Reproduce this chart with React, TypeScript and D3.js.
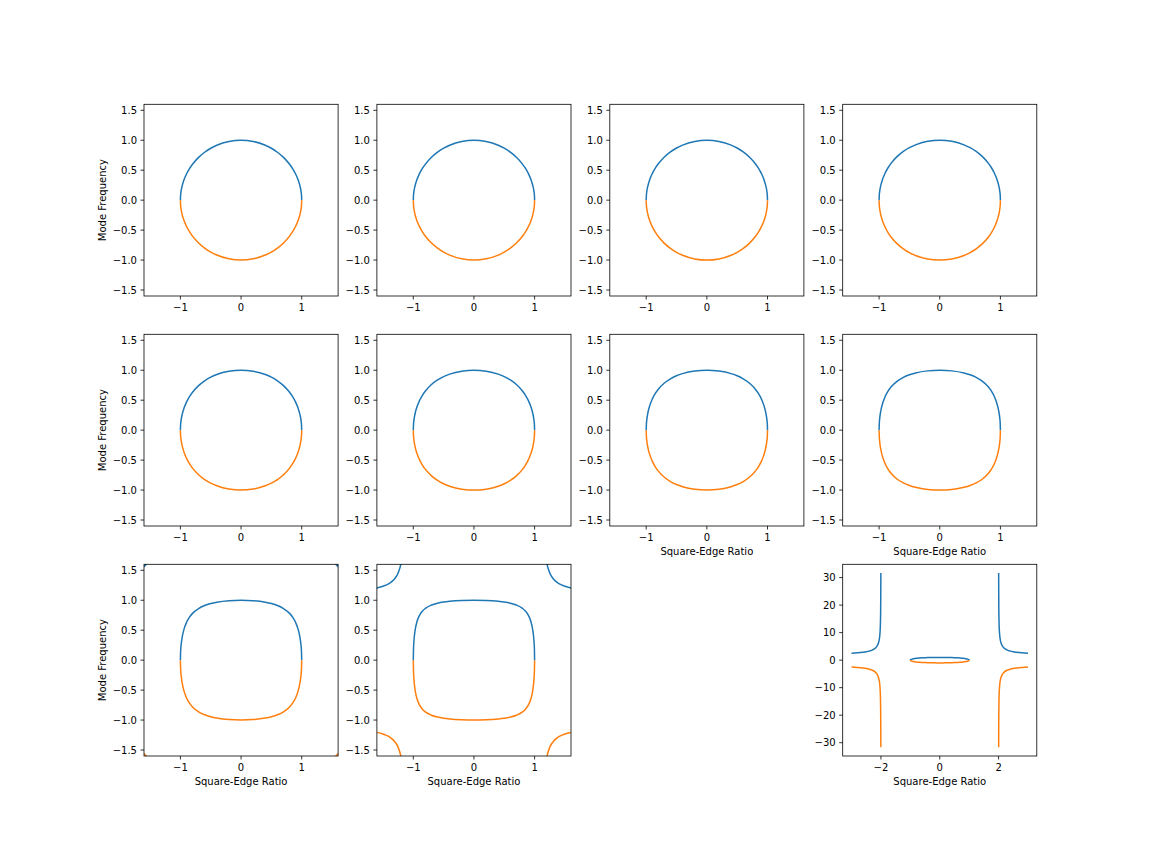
import React from 'react';
import * as d3 from 'd3';

const W = 1152;
const H = 864;
const BLUE = '#1f77b4';
const ORANGE = '#ff7f0e';
const FONT = 'DejaVu Sans, sans-serif';

// x samples of one quadrant; each closed curve is mirrored about x = 0 and y = 0
const quadX = [0, 0.2, 0.4, 0.5, 0.6, 0.7, 0.8, 0.85, 0.9, 0.94, 0.97, 0.99, 0.997, 1];

// upper curve heights, same positions as quadX
const quadY1 = [1, 0.9798, 0.9165, 0.866, 0.8, 0.7141, 0.6, 0.5268, 0.4359, 0.3412, 0.2431, 0.1411, 0.0774, 0];
const quadY2 = [1, 0.98, 0.9173, 0.8671, 0.8014, 0.7159, 0.6019, 0.5287, 0.4377, 0.3427, 0.2443, 0.1418, 0.0778, 0];
const quadY3 = [1, 0.9806, 0.9195, 0.8704, 0.8058, 0.7212, 0.6078, 0.5346, 0.4431, 0.3474, 0.2478, 0.1439, 0.079, 0];
const quadY4 = [1, 0.9816, 0.9232, 0.8759, 0.8133, 0.7304, 0.6181, 0.5448, 0.4527, 0.3556, 0.2541, 0.1477, 0.0811, 0];
const quadY5 = [1, 0.983, 0.9285, 0.8839, 0.8241, 0.7439, 0.6333, 0.5602, 0.4672, 0.3682, 0.2638, 0.1536, 0.0844, 0];
const quadY6 = [1, 0.9847, 0.9354, 0.8944, 0.8386, 0.7624, 0.6547, 0.582, 0.4881, 0.3865, 0.278, 0.1624, 0.0893, 0];
const quadY7 = [1, 0.9869, 0.9441, 0.9078, 0.8575, 0.7869, 0.6839, 0.6124, 0.5179, 0.4132, 0.299, 0.1754, 0.0966, 0];
const quadY8 = [1, 0.9895, 0.9547, 0.9245, 0.8815, 0.8192, 0.7242, 0.6554, 0.5613, 0.4531, 0.3311, 0.1957, 0.1081, 0];
const quadY9 = [1, 0.9926, 0.9674, 0.9449, 0.9119, 0.862, 0.7809, 0.7185, 0.6281, 0.5176, 0.3854, 0.2311, 0.1283, 0];
const quadY10 = [1, 0.9961, 0.9824, 0.9698, 0.9505, 0.9196, 0.8646, 0.818, 0.7433, 0.6399, 0.4985, 0.3107, 0.1753, 0];
const quadY12 = quadY6;

// outer branches (right-hand side; mirrored to the left)
const cornerX9 = [1.55, 1.56, 1.58, 1.6, 1.62];
const cornerY9 = [1.6152, 1.6036, 1.582, 1.563, 1.546];
const cornerX10 = [1.12, 1.15, 1.18, 1.2, 1.25, 1.3, 1.35, 1.4, 1.5, 1.6, 1.7];
const cornerY10 = [3.98, 2.128, 1.752, 1.626, 1.4552, 1.3676, 1.3142, 1.2782, 1.2328, 1.2054, 1.1872];
const outerX12 = [2.003, 2.005, 2.01, 2.02, 2.04, 2.07, 2.1, 2.15, 2.2, 2.3, 2.4, 2.5, 2.6, 2.8, 3.0];
const outerY12 = [31.67, 24.56, 17.41, 12.38, 8.846, 6.791, 5.768, 4.825, 4.276, 3.647, 3.289, 3.055, 2.889, 2.669, 2.53];

const smallXTicks = [-1, 0, 1];
const smallYTicks = [-1.5, -1, -0.5, 0, 0.5, 1, 1.5];
const wideXTicks = [-2, 0, 2];
const wideYTicks = [-30, -20, -10, 0, 10, 20, 30];

const colX = [144, 376.9, 609.8, 842.7];
const rowY = [104.3, 334.3, 564.3];
const PW = 194.1;
const PH = 191.7;

type Pt = [number, number];

interface Panel {
  id: number;
  row: number;
  col: number;
  quadY: number[];
  outerX?: number[];
  outerY?: number[];
  wide?: boolean;
  xLabel?: boolean;
  yLabel?: boolean;
}

const panels: Panel[] = [
  { id: 1, row: 0, col: 0, quadY: quadY1, yLabel: true },
  { id: 2, row: 0, col: 1, quadY: quadY2 },
  { id: 3, row: 0, col: 2, quadY: quadY3 },
  { id: 4, row: 0, col: 3, quadY: quadY4 },
  { id: 5, row: 1, col: 0, quadY: quadY5, yLabel: true },
  { id: 6, row: 1, col: 1, quadY: quadY6 },
  { id: 7, row: 1, col: 2, quadY: quadY7, xLabel: true },
  { id: 8, row: 1, col: 3, quadY: quadY8, xLabel: true },
  { id: 9, row: 2, col: 0, quadY: quadY9, outerX: cornerX9, outerY: cornerY9, xLabel: true, yLabel: true },
  { id: 10, row: 2, col: 1, quadY: quadY10, outerX: cornerX10, outerY: cornerY10, xLabel: true },
  { id: 12, row: 2, col: 3, quadY: quadY12, outerX: outerX12, outerY: outerY12, wide: true, xLabel: true },
];

// mirror a right-half curve to full width
function closedTop(qx: number[], qy: number[]): Pt[] {
  const left: Pt[] = qx.slice(1).reverse().map((x, i) => [-x, qy.slice(1).reverse()[i]]);
  const right: Pt[] = qx.map((x, i) => [x, qy[i]]);
  return [...left, ...right];
}

function PanelView({ p }: { p: Panel }) {
  const x0 = colX[p.col];
  const y0 = rowY[p.row];
  let xDom: [number, number] = [-1.6, 1.6];
  let yDom: [number, number] = [-1.6, 1.6];
  if (p.wide) {
    const xmax = d3.max(p.outerX!)!;
    const ymax = d3.max(p.outerY!)!;
    xDom = [-xmax - 0.1 * xmax, xmax + 0.1 * xmax];
    yDom = [-ymax - 0.1 * ymax, ymax + 0.1 * ymax];
  }
  const sx = d3.scaleLinear().domain(xDom).range([x0, x0 + PW]);
  const sy = d3.scaleLinear().domain(yDom).range([y0 + PH, y0]);
  const line = d3
    .line<Pt>()
    .x(d => sx(d[0]))
    .y(d => sy(d[1]))
    .curve(d3.curveMonotoneX);

  const top: Pt[][] = [closedTop(quadX, p.quadY)];
  if (p.outerX && p.outerY) {
    const right: Pt[] = p.outerX.map((x, i) => [x, p.outerY![i]]);
    const left: Pt[] = right.map(d => [-d[0], d[1]] as Pt).reverse();
    top.push(left, right);
  }
  const bottom: Pt[][] = top.map(seg => seg.map(d => [d[0], -d[1]] as Pt));

  const xTicks = p.wide ? wideXTicks : smallXTicks;
  const yTicks = p.wide ? wideYTicks : smallYTicks;
  const fx = d3.format('d');
  const fy = p.wide ? d3.format('d') : d3.format('.1f');
  const clipId = `clip${p.id}`;

  return (
    <g>
      <clipPath id={clipId}>
        <rect x={x0} y={y0} width={PW} height={PH} />
      </clipPath>
      <g clipPath={`url(#${clipId})`} fill="none" strokeWidth={1.5}>
        {top.map((seg, i) => (
          <path key={`t${i}`} d={line(seg) || ''} stroke={BLUE} />
        ))}
        {bottom.map((seg, i) => (
          <path key={`b${i}`} d={line(seg) || ''} stroke={ORANGE} />
        ))}
      </g>
      <rect x={x0} y={y0} width={PW} height={PH} fill="none" stroke="#000" strokeWidth={0.8} />
      {xTicks.map(t => (
        <g key={`x${t}`}>
          <line x1={sx(t)} x2={sx(t)} y1={y0 + PH} y2={y0 + PH + 3.5} stroke="#000" strokeWidth={0.8} />
          <text x={sx(t)} y={y0 + PH + 14.6} textAnchor="middle" fontSize={10} fontFamily={FONT}>
            {fx(t)}
          </text>
        </g>
      ))}
      {yTicks.map(t => (
        <g key={`y${t}`}>
          <line x1={x0 - 3.5} x2={x0} y1={sy(t)} y2={sy(t)} stroke="#000" strokeWidth={0.8} />
          <text x={x0 - 7} y={sy(t) + 3.6} textAnchor="end" fontSize={10} fontFamily={FONT}>
            {fy(t)}
          </text>
        </g>
      ))}
      {p.xLabel && (
        <text x={x0 + PW / 2} y={y0 + PH + 29} textAnchor="middle" fontSize={10} fontFamily={FONT}>
          Square-Edge Ratio
        </text>
      )}
      {p.yLabel && (
        <text
          transform={`translate(${105.6},${y0 + PH / 2}) rotate(-90)`}
          textAnchor="middle"
          fontSize={10}
          fontFamily={FONT}
        >
          Mode Frequency
        </text>
      )}
    </g>
  );
}

export default function App() {
  return (
    <svg
      width={W}
      height={H}
      style={{ position: 'absolute', left: 0, top: 0, background: '#fff' }}
    >
      {panels.map(p => (
        <PanelView key={p.id} p={p} />
      ))}
    </svg>
  );
}
